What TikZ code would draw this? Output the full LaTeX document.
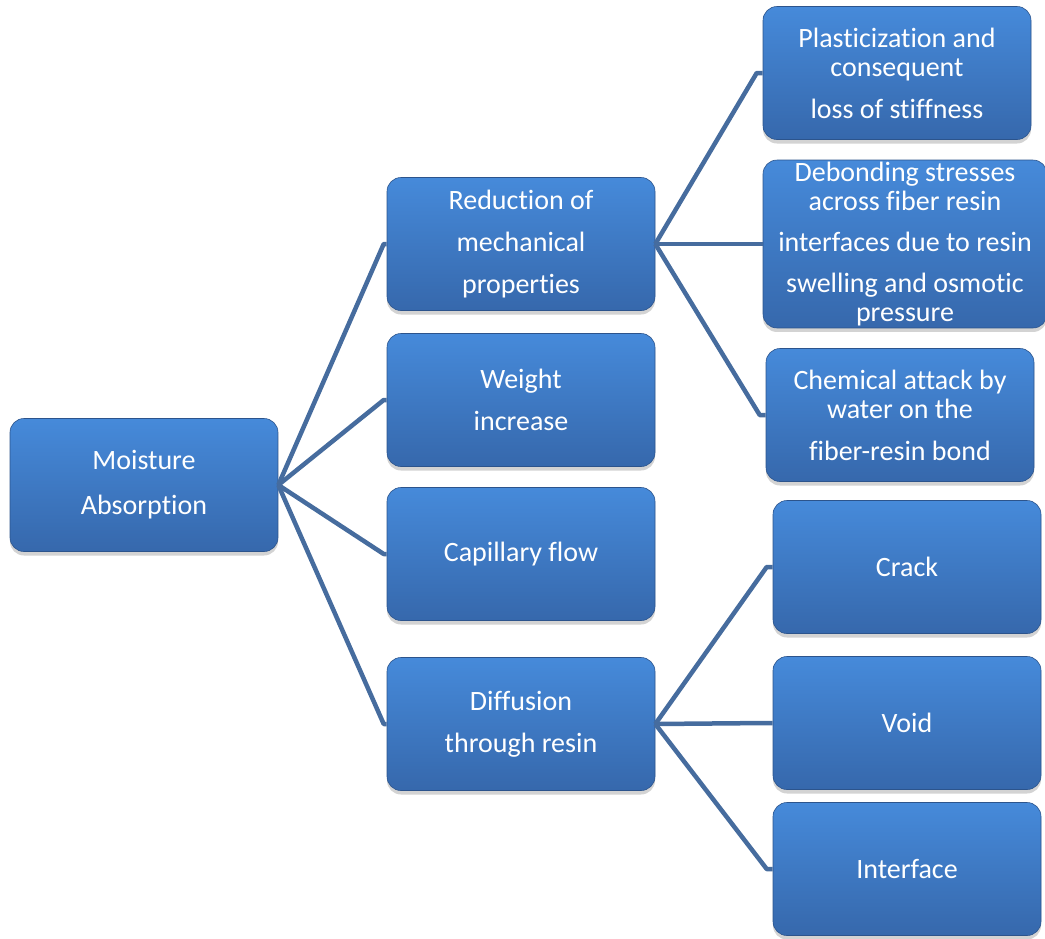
\documentclass[tikz,border=0pt]{standalone}
\usepackage{fontspec}
\setmainfont{Carlito}[RawFeature={-liga;-clig;-dlig}]
\usetikzlibrary{shadows}
\definecolor{boxtop}{RGB}{70,138,218}
\definecolor{boxbot}{RGB}{54,104,172}
\definecolor{boxedge}{RGB}{44,84,140}
\definecolor{linkcol}{RGB}{70,108,158}
\begin{document}
\begin{tikzpicture}
      [x=1pt,y=-1pt
      ,box/.style={rectangle,rounded corners=14pt,minimum width=268pt,minimum height=133pt,
        top color=boxtop,bottom color=boxbot,draw=boxedge,line width=0.6pt,text=white,
        align=center,inner sep=2pt,font=\fontsize{28}{29}\selectfont,
        drop shadow={opacity=0.35,shadow xshift=0pt,shadow yshift=-4pt}}
      ,link/.style={color=linkcol,line width=4.5pt,line join=round}
      ]
        \useasboundingbox (0,0) rectangle (1045,938);
        % first level
        \node[box] (moist) at (144,485) {Moisture\\[16pt]Absorption};
        % second level
        \node[box] (reduc) at (521,244) {Reduction of\\[13pt]mechanical\\[13pt]properties};
        \node[box] (weight) at (521,400) {Weight\\[13pt]increase};
        \node[box] (capil) at (521,554) {Capillary flow};
        \node[box] (diffus) at (521,724) {Diffusion\\[13pt]through resin};
        % third level
        \node[box] (plast) at (897,73) {Plasticization and\\consequent\\[13pt]loss of stiffness};
        \node[box,minimum width=284pt,minimum height=165pt] (debond) at (905,244)
          {Debonding stresses\\across fiber resin\\[12pt]interfaces due to resin\\[12pt]swelling and osmotic\\pressure};
        \node[box] (chem) at (900,415) {Chemical attack by\\water on the\\[13pt]fiber-resin bond};
        \node[box] (crack) at (907,567) {Crack};
        \node[box] (void) at (907,723) {Void};
        \node[box] (interf) at (907,869) {Interface};
        % connectors
        \foreach \child in {reduc,weight,capil,diffus}
          \draw[link] (moist.east) -- ([xshift=-3pt]\child.west) -- (\child.west);
        \foreach \child in {plast,debond,chem}
          \draw[link] (reduc.east) -- ([xshift=-6pt]\child.west) -- (\child.west);
        \foreach \child in {crack,void,interf}
          \draw[link] (diffus.east) -- ([xshift=-6pt]\child.west) -- (\child.west);
\end{tikzpicture}
\end{document}
